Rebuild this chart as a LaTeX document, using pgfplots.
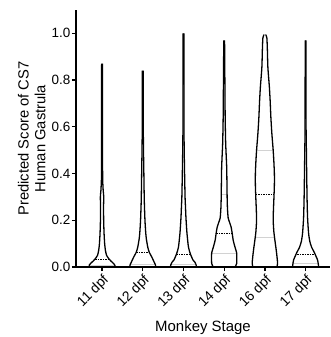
\documentclass[border=0pt]{standalone}
\usepackage{pgfplots}
\pgfplotsset{compat=1.18}
\usepackage{pgfplotstable}
\usepackage{fontspec}
\setmainfont{Liberation Sans}

\pgfplotstableread{
y w
0 13
0.008 12.8
0.015 11.5
0.025 9
0.034 7
0.05 4.5
0.073 3.3
0.1 2.6
0.145 2
0.2 1.6
0.26 1.5
0.30 1.7
0.33 1.1
0.38 0.6
0.5 0.5
0.87 0.4
}\vA
\pgfplotstableread{
y w
0 13
0.01 12.6
0.02 11.5
0.043 9
0.063 6.5
0.085 5
0.12 3.6
0.145 3
0.2 2.2
0.29 1.5
0.43 1
0.55 0.6
0.84 0.4
}\vB
\pgfplotstableread{
y w
0 13
0.01 12.6
0.02 11.5
0.03 9.5
0.055 7
0.085 5
0.145 3.5
0.21 2.5
0.26 2
0.30 1.6
0.43 1
0.6 0.5
1.0 0.4
}\vC
\pgfplotstableread{
y w
0 11
0.015 12.5
0.04 12.6
0.06 12.5
0.09 10.5
0.115 9
0.145 8
0.17 7
0.19 5.5
0.21 4
0.25 3.3
0.29 3
0.35 2.8
0.43 2.5
0.53 1.5
0.64 1
0.8 0.7
0.97 0.4
}\vD
\pgfplotstableread{
y w
0 12
0.017 12.7
0.06 11.7
0.09 10.8
0.115 10
0.15 9
0.20 8.3
0.25 8.6
0.29 9
0.35 9.5
0.40 9.5
0.45 9
0.50 8.3
0.57 7
0.64 6
0.71 5.3
0.77 4.5
0.855 3
0.93 2.5
0.98 2
0.995 0.8
}\vE
\pgfplotstableread{
y w
0 13
0.01 12.8
0.03 12
0.045 10.5
0.06 9
0.085 6
0.11 4.2
0.145 3
0.21 2
0.29 1.5
0.4 1.1
0.5 0.8
0.6 0.5
0.97 0.4
}\vF

\newcommand{\violin}[2]{%
\addplot[black, line width=1.3bp, smooth, tension=0.35] table[x expr={#1+\thisrow{w}/40.7}, y=y]{#2};
\addplot[black, line width=1.3bp, smooth, tension=0.35] table[x expr={#1-\thisrow{w}/40.7}, y=y]{#2};
}

\begin{document}
\begin{tikzpicture}
\useasboundingbox (-76bp,-70bp) rectangle (255bp,267bp);
\begin{axis}[
  at={(0,0)}, anchor=south west,
  scale only axis, width=254bp, height=257bp,
  xmin=-0.64, xmax=5.6, ymin=0, ymax=1.1,
  axis x line*=bottom, axis y line*=left,
  axis line style={line width=1.6bp},
  tick style={black, line width=1.3bp},
  tick align=outside, major tick length=4bp,
  xtick={0,1,2,3,4,5},
  xticklabels={11 dpf,12 dpf,13 dpf,14 dpf,16 dpf,17 dpf},
  xticklabel style={rotate=45, anchor=north east, font=\fontsize{14}{15}\selectfont, inner sep=1.5bp},
  ytick={0,0.2,0.4,0.6,0.8,1.0},
  yticklabel style={/pgf/number format/fixed, /pgf/number format/precision=1, /pgf/number format/fixed zerofill, font=\fontsize{13.5}{15}\selectfont, inner sep=1.5bp},
  /pgf/number format/assume math mode=true,
  xlabel={Monkey Stage},
  xlabel style={font=\fontsize{15}{17}\selectfont, yshift=-5bp},
  ylabel={Predicted Score of CS7\\Human Gastrula},
  ylabel style={align=center, font=\fontsize{14.8}{17}\selectfont, yshift=1bp},
  clip=false,
]
% quartile lines (light gray)
\addplot[gray!35, line width=0.8bp] coordinates {(-0.31,0.008) (0.31,0.008)};
\addplot[gray!35, line width=0.8bp] coordinates {(0.695,0.012) (1.305,0.012)};
\addplot[gray!35, line width=0.8bp] coordinates {(1.695,0.01) (2.305,0.01)};
\addplot[gray!35, line width=0.8bp] coordinates {(2.698,0.06) (3.302,0.06)};
\addplot[gray!35, line width=0.8bp] coordinates {(2.929,0.31) (3.071,0.31)};
\addplot[gray!35, line width=0.8bp] coordinates {(3.759,0.127) (4.241,0.127)};
\addplot[gray!35, line width=0.8bp] coordinates {(3.801,0.50) (4.199,0.50)};
\addplot[gray!35, line width=0.8bp] coordinates {(4.695,0.017) (5.305,0.017)};
% medians (dashed)
\addplot[black, line width=0.6bp, dash pattern=on 1.5bp off 1bp] coordinates {(-0.172,0.034) (0.172,0.034)};
\addplot[black, line width=0.6bp, dash pattern=on 1.5bp off 1bp] coordinates {(0.840,0.063) (1.160,0.063)};
\addplot[black, line width=0.6bp, dash pattern=on 1.5bp off 1bp] coordinates {(1.828,0.055) (2.172,0.055)};
\addplot[black, line width=0.6bp, dash pattern=on 1.5bp off 1bp] coordinates {(2.803,0.145) (3.197,0.145)};
\addplot[black, line width=0.6bp, dash pattern=on 1.5bp off 1bp] coordinates {(3.779,0.31) (4.221,0.31)};
\addplot[black, line width=0.6bp, dash pattern=on 1.5bp off 1bp] coordinates {(4.791,0.055) (5.209,0.055)};
\violin{0}{\vA}
\violin{1}{\vB}
\violin{2}{\vC}
\violin{3}{\vD}
\violin{4}{\vE}
\violin{5}{\vF}
\end{axis}
\end{tikzpicture}
\end{document}
